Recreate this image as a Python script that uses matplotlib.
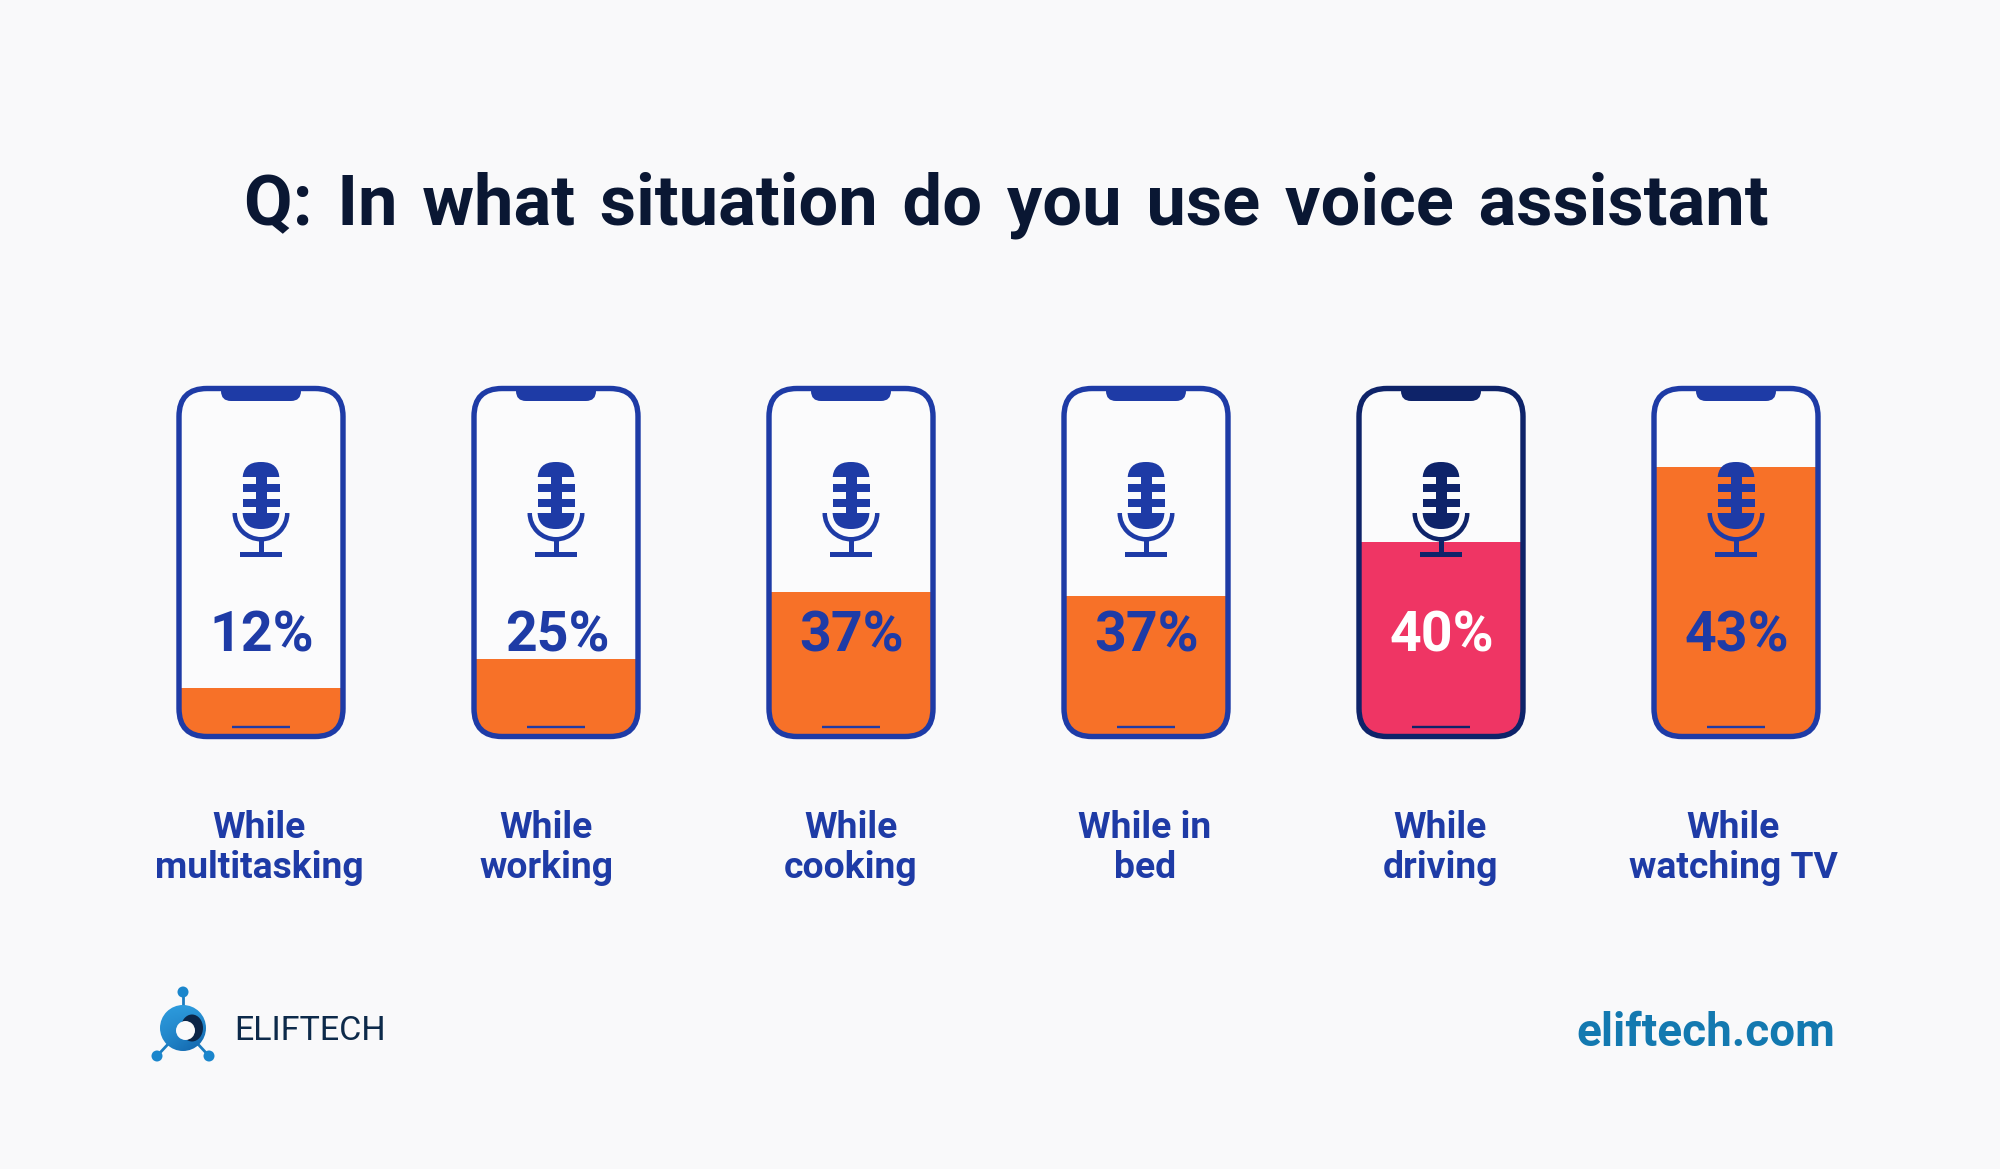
import numpy as np
import matplotlib
matplotlib.use("Agg")
import matplotlib.pyplot as plt
from matplotlib.colors import LinearSegmentedColormap
from matplotlib.patches import Circle, Ellipse, FancyBboxPatch, Rectangle, Wedge

plt.rcParams['font.family'] = ['Roboto', 'DejaVu Sans']

# ----------------------------------------------------
# Data
# ----------------------------------------------------
title = "Q: In what situation do you use voice assistant"
situations = ["While\nmultitasking", "While\nworking", "While\ncooking",
              "While in\nbed", "While\ndriving", "While\nwatching TV"]
percents = [12, 25, 37, 37, 40, 43]
# how far the colour rises up each phone screen
fill_levels = [0.139, 0.223, 0.414, 0.403, 0.559, 0.774]
highlight = [False, False, False, False, True, False]

BG = "#F9F9FA"
BLUE = "#1E3BA6"
DARK_BLUE = "#0E2369"
ORANGE = "#F77128"
PINK = "#EF3564"
INK = "#0A1733"
TEAL = "#1379B0"

# labels are not quite centred under the phones
label_shift = [-2, -10, 0, -1, -1, -3]


def draw_mic(ax, cx, color):
    half = 18.5
    # body is cut in pieces so the background shows through the notches
    for y0, y1 in [(462, 477), (513, 529)]:
        body = FancyBboxPatch((cx - half + 18, 480), 2 * half - 36, 31,
                              boxstyle="round,pad=18,rounding_size=18",
                              fc=color, ec="none", zorder=5)
        ax.add_patch(body)
        body.set_clip_path(Rectangle((cx - half - 1, y0), 2 * half + 2, y1 - y0, transform=ax.transData))
    for y0, y1 in [(484, 492), (499, 507)]:
        ax.add_patch(Rectangle((cx - half, y0), 2 * half, y1 - y0, fc=color, ec="none", zorder=5))
    ax.add_patch(Rectangle((cx - 5.5, 470), 11, 50, fc=color, ec="none", zorder=5))
    # cradle, stem and base
    ax.add_patch(Wedge((cx, 513), 28.5, 0, 180, width=4.5, fc=color, ec="none", zorder=5))
    ax.add_patch(Rectangle((cx - 2.5, 540), 5, 13, fc=color, ec="none", zorder=5))
    ax.add_patch(Rectangle((cx - 21, 552), 42, 5, fc=color, ec="none", zorder=5))


def draw_phone(ax, cx, level, color, fill):
    left, right = cx - 82, cx + 82
    top, bottom = 388.5, 736.5
    r = 28
    shell = FancyBboxPatch((left + r, top + r), right - left - 2 * r, bottom - top - 2 * r,
                           boxstyle=f"round,pad={r},rounding_size={r}",
                           fc="#FBFBFC", ec="none", zorder=1)
    ax.add_patch(shell)
    screen_h = bottom - top
    rect = Rectangle((left, bottom - level * screen_h), right - left, level * screen_h,
                     fc=fill, ec="none", zorder=2)
    ax.add_patch(rect)
    rect.set_clip_path(shell)
    ax.add_patch(FancyBboxPatch((left + r, top + r), right - left - 2 * r, bottom - top - 2 * r,
                                boxstyle=f"round,pad={r},rounding_size={r}",
                                fc="none", ec=color, lw=3.9, zorder=6))
    # notch and home bar
    notch = FancyBboxPatch((cx - 30, 378), 60, 13,
                           boxstyle="round,pad=10,rounding_size=10",
                           fc=color, ec="none", zorder=6)
    ax.add_patch(notch)
    notch.set_clip_path(Rectangle((cx - 41, 388), 82, 14, transform=ax.transData))
    ax.plot([cx - 29, cx + 29], [727, 727], color=color, lw=1.7, solid_capstyle="butt", zorder=6)


def draw_logo(ax):
    cx, cy = 183, 1028
    for nx, ny in [(183, 992), (157, 1056), (209, 1056)]:
        ax.plot([cx, nx], [cy, ny], color="#1B7CC0", lw=2, zorder=1)
        ax.add_patch(Circle((nx, ny), 5.5, fc="#1B86CC", ec="none", zorder=2))
    grad = np.linspace(0, 1, 64).reshape(-1, 1) * np.linspace(0.4, 1, 64).reshape(1, -1)
    logo_cmap = LinearSegmentedColormap.from_list("logo", ["#2D9BDD", "#0F5FA6"])
    im = ax.imshow(grad, extent=(cx - 23, cx + 23, cy + 23, cy - 23), cmap=logo_cmap,
                   aspect="auto", zorder=3)
    im.set_clip_path(Circle((cx, cy), 23, transform=ax.transData))
    ax.add_patch(Ellipse((cx + 9, cy), 22, 27, fc="#0B2547", ec="none", zorder=4))
    ax.add_patch(Circle((cx + 2.5, cy + 2.5), 9.5, fc="#FAFAFB", ec="none", zorder=5))


fig = plt.figure(figsize=(20, 11.69), dpi=100, facecolor=BG)
ax = fig.add_axes([0, 0, 1, 1])
ax.axis("off")

centers = 261 + 295 * np.arange(len(percents))

draw_logo(ax)
ax.set_xlim(0, 2000)
ax.set_ylim(1169, 0)

# no letter spacing in matplotlib, a hair space at each word gap makes up the width
ax.text(1006, 205, title.replace(" ", " \u200a"), fontsize=50.8, fontweight="bold", color=INK,
        ha="center", va="center")

for cx, sit, pct, lev, hi, dx in zip(centers, situations, percents, fill_levels, highlight, label_shift):
    color = DARK_BLUE if hi else BLUE
    draw_phone(ax, cx, lev, color, PINK if hi else ORANGE)
    draw_mic(ax, cx, color)
    ax.text(cx + 1, 636, f"{pct}%", fontsize=40, fontweight="bold", color="white" if hi else BLUE,
            ha="center", va="center", zorder=7)
    ax.text(cx + dx, 848, sit, fontsize=26.8, fontweight="bold", color=BLUE, ha="center", va="center",
            linespacing=1.14)

ax.text(234, 1031, "ELIFTECH", fontsize=24.5, color="#0D2A4A", ha="left", va="center")
ax.text(1835, 1033, "eliftech.com", fontsize=33, fontweight="bold", color=TEAL, ha="right", va="center")

fig.savefig("out.png", dpi=100, facecolor=BG)
